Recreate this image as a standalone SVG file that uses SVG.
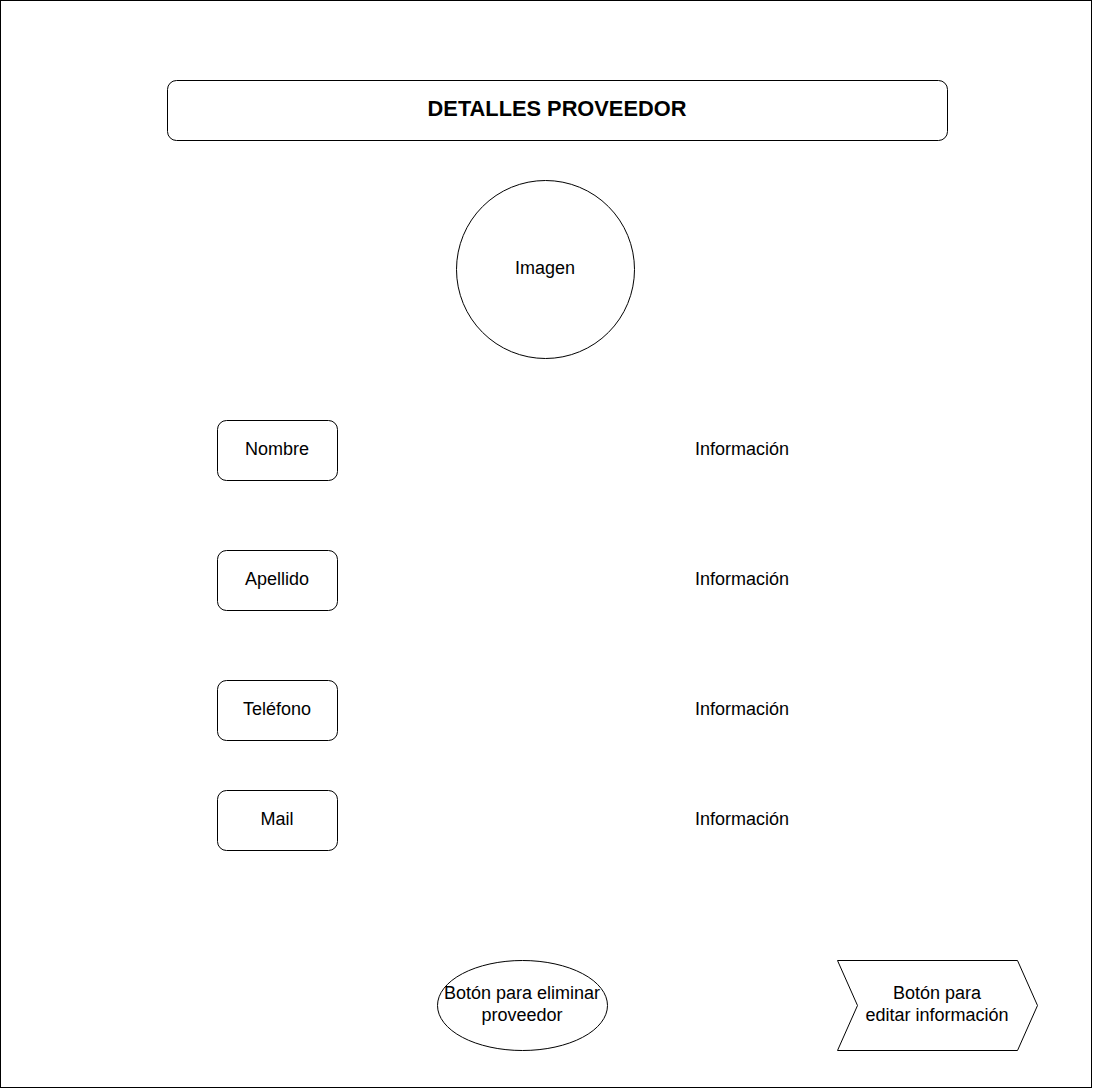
<svg xmlns="http://www.w3.org/2000/svg" width="1093" height="1089" viewBox="0 0 1093 1089">
<style>
.s{fill:#fff;stroke:#000;stroke-width:1}
.t{font-family:"Liberation Sans",Arial,sans-serif;font-size:18px;fill:#000;text-anchor:middle}
.b{font-weight:bold;font-size:21.8px}
</style>
<rect x="0.5" y="0.5" width="1091" height="1087" fill="#fff" stroke="#000"/>
<g id="title"><rect class="s" x="167.5" y="80.5" width="780" height="60" rx="9"/><text class="t b" x="557" y="116">DETALLES PROVEEDOR</text></g>
<g id="imagen"><circle class="s" cx="545.5" cy="269.5" r="89"/><text class="t" x="545" y="274">Imagen</text></g>
<g id="nombre"><rect class="s" x="217.5" y="420.5" width="120" height="60" rx="9"/><text class="t" x="277" y="455">Nombre</text></g>
<g id="apellido"><rect class="s" x="217.5" y="550.5" width="120" height="60" rx="9"/><text class="t" x="277" y="585">Apellido</text></g>
<g id="telefono"><rect class="s" x="217.5" y="680.5" width="120" height="60" rx="9"/><text class="t" x="277" y="715">Teléfono</text></g>
<g id="mail"><rect class="s" x="217.5" y="790.5" width="120" height="60" rx="9"/><text class="t" x="277" y="825">Mail</text></g>
<g id="info1"><text class="t" x="742" y="455">Información</text></g>
<g id="info2"><text class="t" x="742" y="585">Información</text></g>
<g id="info3"><text class="t" x="742" y="715">Información</text></g>
<g id="info4"><text class="t" x="742" y="825">Información</text></g>
<g id="eliminar"><ellipse class="s" cx="522.5" cy="1005.5" rx="85" ry="45"/><text class="t" x="522" y="999">Botón para eliminar</text><text class="t" x="522" y="1021">proveedor</text></g>
<g id="editar"><polygon class="s" points="837.5,960.5 1017.5,960.5 1037.5,1005.5 1017.5,1050.5 837.5,1050.5 857.5,1005.5"/><text class="t" x="937" y="999">Botón para</text><text class="t" x="937" y="1021">editar información</text></g>
<g id="connectors"/>
</svg>
